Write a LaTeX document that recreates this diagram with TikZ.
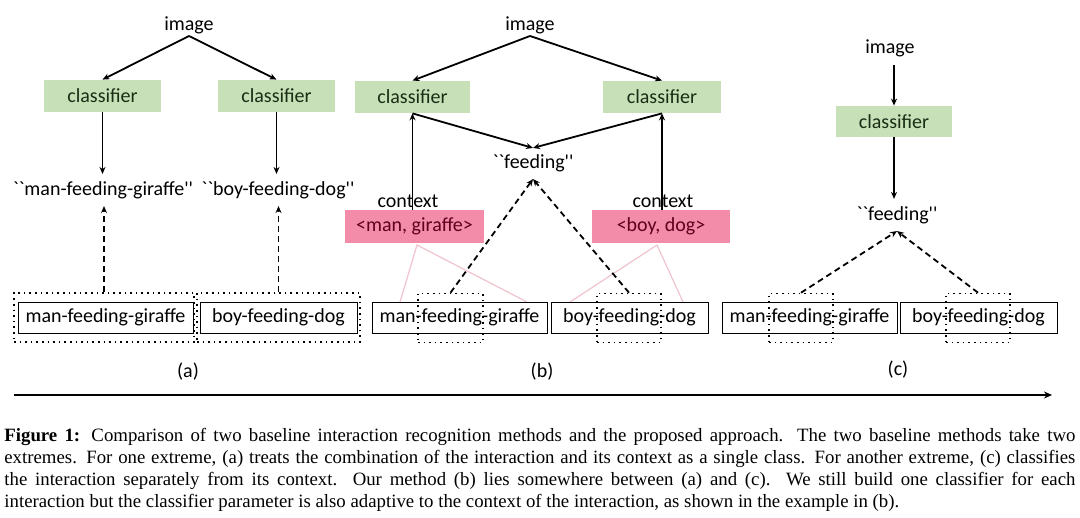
\documentclass[tikz,border=0pt]{standalone}
\usepackage{fontspec}
\setmainfont{Liberation Serif}
\newfontfamily\diag{Carlito}
\usetikzlibrary{arrows.meta,calc}
\definecolor{clsgreen}{RGB}{200,224,184}
\definecolor{clstext}{RGB}{25,45,20}
\definecolor{ctxpink}{RGB}{242,140,168}
\definecolor{ctxtext}{RGB}{95,0,30}
\definecolor{faintpink}{RGB}{240,195,205}
\tikzset{
  every node/.style={font=\diag\fontsize{10}{12}\selectfont, inner sep=0pt},
  lbl/.style={},
  clsbox/.style={fill=clsgreen, text=clstext, minimum height=16pt},
  ctxbox/.style={fill=ctxpink, text=ctxtext, minimum height=16.5pt},
  wordbox/.style={draw, line width=0.5pt, minimum height=15.5pt},
  dotbox/.style={draw, dotted, line width=0.8pt, minimum height=24.5pt},
  arr/.style={line width=0.9pt, -{Stealth[length=3.5pt,width=3pt]}},
  darr/.style={line width=0.9pt, dash pattern=on 3pt off 2pt, -{Stealth[length=3.5pt,width=3pt]}},
  pinkline/.style={faintpink, line width=0.6pt},
}
\begin{document}
\begin{tikzpicture}[x=0.5pt,y=-0.5pt]
\useasboundingbox (0,0) rectangle (1080,518);
% ---------------- (a)
\node[lbl] (imgA) at (189,25) {image};
\node[clsbox, minimum width=58.5pt] (cA1) at (102.5,96) {classifier};
\node[clsbox, minimum width=58.5pt] (cA2) at (276.5,96) {classifier};
\node[lbl] (lA1) at (103,190) {``man-feeding-giraffe''};
\node[lbl] (lA2) at (278,190) {``boy-feeding-dog''};
\node[dotbox, minimum width=90pt] (dA1) at (104,317.5) {};
\node[dotbox, minimum width=81.5pt] (dA2) at (278.5,317.5) {};
\node[wordbox, minimum width=87.5pt] (wA1) at (105.5,317.5) {man-feeding-giraffe};
\node[wordbox, minimum width=78.5pt] (wA2) at (278.5,317.5) {boy-feeding-dog};
\node[lbl] (capA) at (188,372) {(a)};
\draw[arr] ([yshift=-1pt]imgA.south) -- (cA1.north);
\draw[arr] ([yshift=-1pt]imgA.south) -- (cA2.north);
\draw[arr] (cA1.south) -- ([yshift=3.5pt]cA1.south |- lA1.north);
\draw[arr] (cA2.south) -- ([yshift=3.5pt]cA2.south |- lA2.north);
\draw[darr] (dA1.north) -- ([yshift=-3.5pt]dA1.north |- lA1.south);
\draw[darr] (dA2.north) -- ([yshift=-3.5pt]dA2.north |- lA2.south);
% ---------------- (b)
\node[lbl] (imgB) at (530,25) {image};
\node[clsbox, minimum width=57.5pt] (cB1) at (412.5,97) {classifier};
\node[clsbox, minimum width=59pt] (cB2) at (662,97) {classifier};
\node[lbl] (fB) at (533,163) {``feeding''};
\node[lbl] (tB1) at (408,201) {context};
\node[lbl] (tB2) at (663,201) {context};
\node[ctxbox, minimum width=69.5pt] (xB1) at (414.5,226.5) {<man, giraffe>};
\node[ctxbox, minimum width=69pt] (xB2) at (661,226.5) {<boy, dog>};
\coordinate (pB1) at (417,245);
\coordinate (pB2) at (657,245);
\coordinate (mB1) at (400,302);
\coordinate (gB1) at (527,302);
\coordinate (bB2) at (570,302);
\coordinate (dgB2) at (683,302);
\draw[pinkline] (mB1) -- (pB1) -- (gB1);
\draw[pinkline] (bB2) -- (pB2) -- (dgB2);
\node[wordbox, minimum width=87.5pt] (wB1) at (459.5,317.5) {man-feeding-giraffe};
\node[wordbox, minimum width=78.5pt] (wB2) at (629.5,317.5) {boy-feeding-dog};
\node[dotbox, minimum width=32.5pt] (dB1) at (450.5,318) {};
\node[dotbox, minimum width=32pt] (dB2) at (629,318) {};
\node[lbl] (capB) at (542,372) {(b)};
\coordinate (fBt) at ([yshift=3pt]fB.north);
\coordinate (fBb) at ([yshift=-3.5pt]fB.south);
\draw[arr] ([yshift=-1pt]imgB.south) -- (cB1.north);
\draw[arr] ([yshift=-1pt]imgB.south) -- (cB2.north);
\draw[arr] (cB1.south) -- (fBt);
\draw[arr] (cB2.south) -- (fBt);
\draw[arr] (cB1.south |- xB1.north) -- (cB1.south);
\draw[arr] (cB2.south |- xB2.north) -- (cB2.south);
\draw[darr] (dB1.north) -- (fBb);
\draw[darr] (dB2.north) -- (fBb);
% ---------------- (c)
\node[lbl] (imgC) at (890,48) {image};
\node[clsbox, minimum width=58pt, minimum height=15.5pt] (cC) at (894,121.5) {classifier};
\node[lbl] (fC) at (897,215) {``feeding''};
\node[wordbox, minimum width=87.5pt] (wC1) at (809.5,317.5) {man-feeding-giraffe};
\node[wordbox, minimum width=78.5pt] (wC2) at (978.5,317.5) {boy-feeding-dog};
\node[dotbox, minimum width=32pt] (dC1) at (801,318) {};
\node[dotbox, minimum width=32pt] (dC2) at (978,318) {};
\node[lbl] (capC) at (898,370) {(c)};
\coordinate (fCb) at ([yshift=-3.5pt]fC.south);
\draw[arr] ([yshift=-4pt]cC.north |- imgC.south) -- (cC.north);
\draw[arr] (cC.south) -- ([yshift=3.5pt]cC.south |- fC.north);
\draw[darr] (dC1.north) -- (fCb);
\draw[darr] (dC2.north) -- (fCb);
% ---------------- axis
\coordinate (axL) at (14,395);
\coordinate (axR) at (1052,395);
\draw[line width=1pt, -{Stealth[length=4pt,width=3.5pt]}] (axL) -- (axR);
% ---------------- caption
\node[anchor=north west, text width=535.5pt, align=justify,
      font=\rmfamily\fontsize{9.4}{11}\selectfont] (caption) at (4,428)
{\textbf{Figure 1:} Comparison of two baseline interaction recognition methods and the proposed approach.  The two baseline methods take two\linebreak
extremes. For one extreme, (a) treats the combination of the interaction and its context as a single class. For another extreme, (c) classifies\linebreak
the interaction separately from its context.  Our method (b) lies somewhere between (a) and (c).  We still build one classifier for each\linebreak
interaction but the classifier parameter is also adaptive to the context of the interaction, as shown in the example in (b).};
\end{tikzpicture}
\end{document}
